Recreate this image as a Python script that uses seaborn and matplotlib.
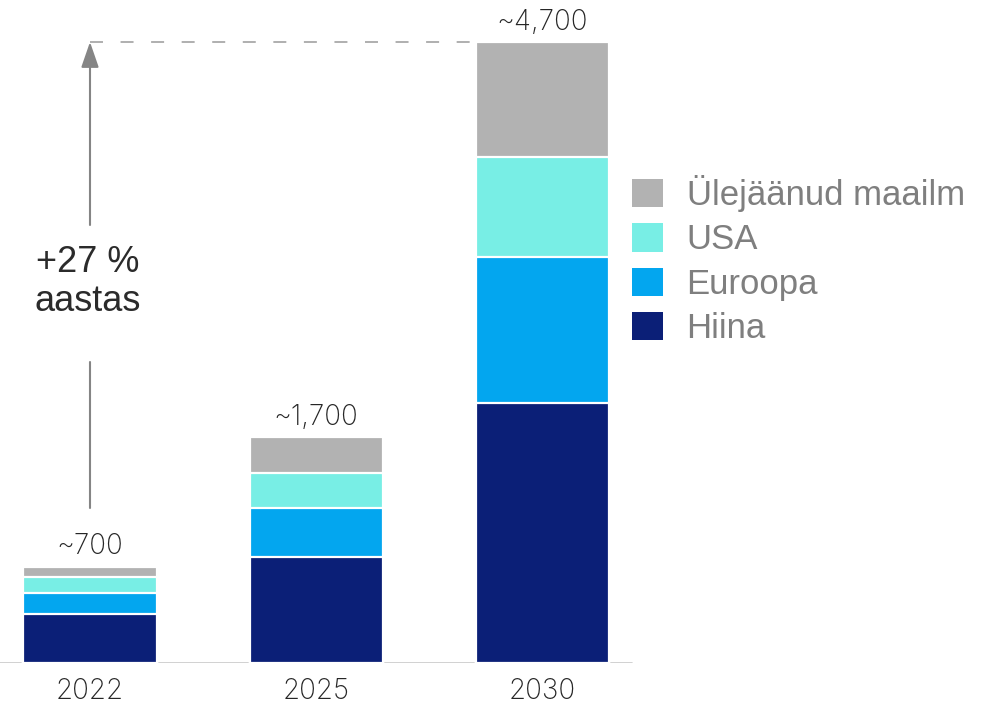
import matplotlib
matplotlib.use("Agg")
import matplotlib.pyplot as plt
import seaborn as sns
import pandas as pd
import numpy as np
from matplotlib.patches import Patch

# ---- data ----
years = ["2022", "2025", "2030"]
regions = ["Hiina", "Euroopa", "USA", "Ülejäänud maailm"]
hiina = [371, 802, 1968]
euroopa = [159, 371, 1105]
usa = [121, 265, 757]
rest = [76, 272, 870]
total_labels = ["~700", "~1,700", "~4,700"]
growth_label = "+27 %\naastas"

colors = ["#0b1f77", "#03a6ef", "#78eee5", "#b2b2b2"]

df = pd.DataFrame({"year": years, "Hiina": hiina, "Euroopa": euroopa,
                   "USA": usa, "Ülejäänud maailm": rest})

sns.set_theme(style="white")
plt.rcParams["font.family"] = ["Liberation Sans", "DejaVu Sans"]

W, H = 989, 705
fig = plt.figure(figsize=(W / 100, H / 100), dpi=100)
base_px = 663
axw_px = 640
ax = fig.add_axes([0, (H - base_px) / H, axw_px / W, base_px / H])

# cumulative stacking: draw tallest first, then overlay lower layers
cum = df[regions].cumsum(axis=1)
bar_w = 0.59
for reg, col in reversed(list(zip(regions, colors))):
    sns.barplot(x=df["year"], y=cum[reg], color=col, width=bar_w,
                edgecolor="white", linewidth=1.6, ax=ax, saturation=1)

px_per_unit = 621 / 4700
ax.set_ylim(0, base_px / px_per_unit)
ax.set_xlim(-90 / 226.25, (axw_px - 90) / 226.25)
sns.despine(ax=ax, left=True, bottom=True, top=True, right=True)
ax.set_yticks([])
ax.set_xlabel("")
ax.set_ylabel("")
ax.axhline(0, xmin=0, xmax=632 / axw_px, color="#c9c9c9", lw=1.2, zorder=0)
ax.tick_params(axis="x", length=0, pad=11)
for t in ax.get_xticklabels():
    t.set_fontfamily(["Inter", "DejaVu Sans"])
    t.set_fontweight("light")
    t.set_fontsize(20)
    t.set_color("#262626")

totals = cum[regions[-1]].values
for i, (tot, lab) in enumerate(zip(totals, total_labels)):
    ax.annotate(lab, xy=(i, tot), xytext=(0, 9), textcoords="offset points",
                ha="center", va="baseline", fontsize=20, color="#262626",
                family=["Inter", "DejaVu Sans"], fontweight="light")

# growth arrow with dashed reference line
top = totals[-1]
ax.plot([0, 2 - bar_w / 2], [top, top], color="#9a9a9a", lw=1.1,
        dashes=(8.5, 11.5), zorder=1)
y_upper_start = (base_px - 225) / px_per_unit
y_lower_top = (base_px - 362) / px_per_unit
y_lower_bot = (base_px - 508) / px_per_unit
ax.annotate("", xy=(0, top), xytext=(0, y_upper_start),
            arrowprops=dict(arrowstyle="-|>,head_length=1.3,head_width=0.45",
                            color="#858585", lw=1.5, shrinkA=0, shrinkB=0))
ax.plot([0, 0], [y_lower_bot, y_lower_top], color="#858585", lw=1.5)
ax.text(-0.01, (base_px - 282) / px_per_unit, growth_label, ha="center",
        va="center", fontsize=26, color="#2b2b2b", linespacing=1.15)

# legend
handles = [Patch(facecolor=c, edgecolor="none") for c in colors][::-1]
labels = regions[::-1]
fig.legend(handles, labels, loc="upper left",
           bbox_to_anchor=(632 / W, 1 - 175 / H), bbox_transform=fig.transFigure,
           frameon=False, fontsize=25, labelcolor="#7f7f7f",
           handlelength=0.89, handleheight=0.89, handletextpad=0.68,
           labelspacing=0.32, borderpad=0, borderaxespad=0)

fig.savefig("out.png", dpi=100)
